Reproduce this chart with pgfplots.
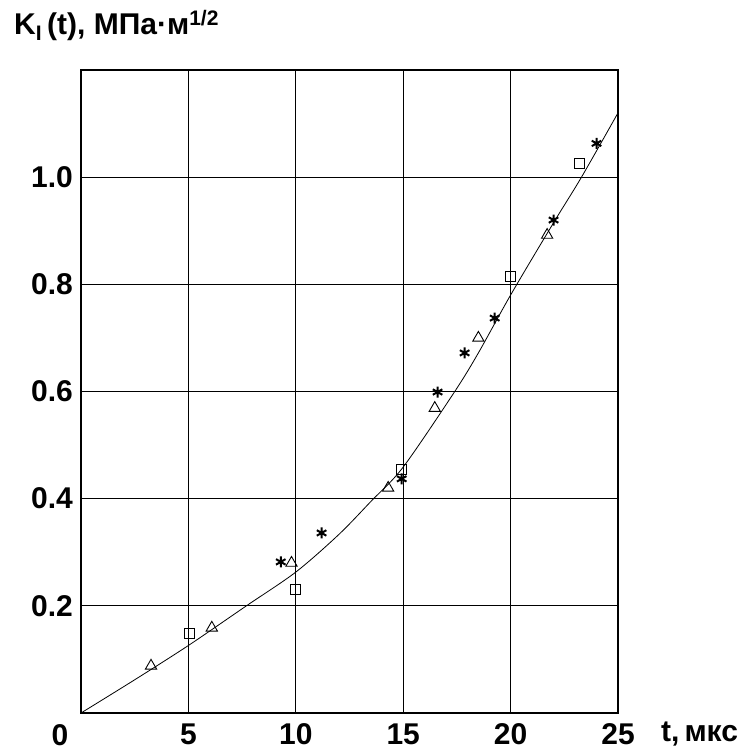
\documentclass[border=0pt]{standalone}
\usepackage{fontspec}
\setmainfont{Liberation Sans}
\usepackage{pgfplots}
\pgfplotsset{compat=1.18}
\begin{document}
\begin{tikzpicture}
\useasboundingbox (-81pt,-39pt) rectangle (666pt,713pt);
\begin{axis}[
  at={(0pt,0pt)}, anchor=south west,
  scale only axis, width=537pt, height=643pt,
  xmin=0, xmax=25, ymin=0, ymax=1.2,
  xtick={5,10,15,20,25}, xticklabels={5,10,15,20,25},
  ytick={0.2,0.4,0.6,0.8,1.0}, yticklabels={0.2,0.4,0.6,0.8,1.0},
  major tick length=0pt,
  grid=major,
  major grid style={black, line width=1.1pt},
  axis line style={black, line width=1.3pt},
  ticklabel style={font=\fontsize{30}{30}\selectfont\bfseries, inner sep=0pt},
  xticklabel style={anchor=center, yshift=-21pt},
  yticklabel style={anchor=east, xshift=-8pt},
  /pgf/number format/assume math mode=true,
  clip=false,
]
% fitted curve
\addplot[black, line width=0.8pt, smooth, tension=0.5] coordinates {
 (0,0) (2.5,0.062) (5,0.126) (7.7,0.2) (10,0.263) (12,0.333) (13.5,0.395)
 (15,0.459) (17.4,0.6) (18.5,0.672) (20,0.78) (22,0.915) (23.3,1.0) (25,1.12)};
% squares
\addplot[only marks, mark=square, mark size=5pt, black, line width=0.9pt] coordinates {
 (5.07,0.149) (10.0,0.231) (14.93,0.455) (20.0,0.815) (23.2,1.026)};
% triangles
\addplot[only marks, mark=triangle, mark size=6.5pt, black, line width=0.9pt] coordinates {
 (3.26,0.088) (6.09,0.159) (9.8,0.28) (14.3,0.42) (16.47,0.569) (18.5,0.70) (21.7,0.892)};
% asterisks
\addplot[only marks, mark=asterisk, mark size=5.5pt, black, line width=2pt] coordinates {
 (9.3,0.282) (11.2,0.336) (14.93,0.437) (16.6,0.599) (17.86,0.672) (19.26,0.737) (22.0,0.92) (24.0,1.063)};
\node[inner sep=0pt, font=\fontsize{30}{30}\selectfont\bfseries] at ([xshift=-21pt,yshift=-22pt]axis cs:0,0) {0};
\node[inner sep=0pt, anchor=west, font=\fontsize{30}{30}\selectfont\bfseries] at ([xshift=43pt,yshift=-21pt]axis cs:25,0) {t,\,мкс};
\end{axis}
\node[inner sep=0pt, anchor=base west, font=\fontsize{30}{30}\selectfont\bfseries] at (-67pt,678pt) {K\textsubscript{I}\,(t), МПа·м\textsuperscript{1/2}};
\end{tikzpicture}
\end{document}
